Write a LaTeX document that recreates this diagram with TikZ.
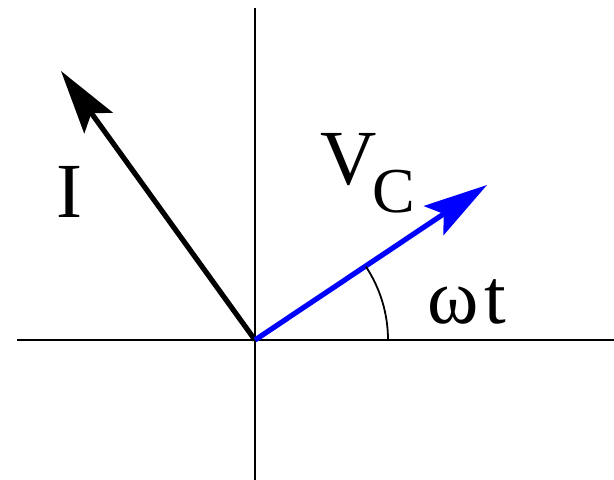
\documentclass[tikz,border=0pt]{standalone}
\usepackage{fontspec}
\setmainfont{Liberation Serif}
\usepackage{xcolor}
\usetikzlibrary{arrows.meta,calc}
\definecolor{vblue}{HTML}{0000FF}

\begin{document}
\begin{tikzpicture}[x=0.5pt,y=-0.5pt,
  axis/.style={line width=1.1pt,black},
  vec/.style={line width=2.6pt,-{Stealth[length=32pt,width=17.5pt,inset=6pt]}},
  lbl/.style={font=\fontsize{39pt}{39pt}\selectfont,inner sep=0pt}]
  \useasboundingbox (0,0) rectangle (614,480);
  \coordinate (O) at (255,340);
  \coordinate (xl) at (17,340);
  \coordinate (xr) at (614,340);
  \coordinate (yt) at (255,8);
  \coordinate (yb) at (255,480);
  \coordinate (Itip) at (61,71);
  \coordinate (Vtip) at (487,185);
  % axes
  \draw[axis] (xl) -- (xr);
  \draw[axis] (yt) -- (yb);
  % phasors
  \draw[vec] (O) -- (Itip);
  \draw[vec,vblue] (O) -- (Vtip);
  % angle
  \draw[line width=0.9pt] ($(O)+(133,0)$) arc[start angle=0,end angle=-33.5,radius=133];
  \node[lbl] (I) at (69,192) {I};
  \node[lbl,anchor=base west] (vc) at (320,185) {V\kern-2pt\raisebox{-13.5pt}{\fontsize{32pt}{32pt}\selectfont C}};
  \node[lbl] (wt) at (467,302) {ω\kern3pt t};
\end{tikzpicture}
\end{document}
